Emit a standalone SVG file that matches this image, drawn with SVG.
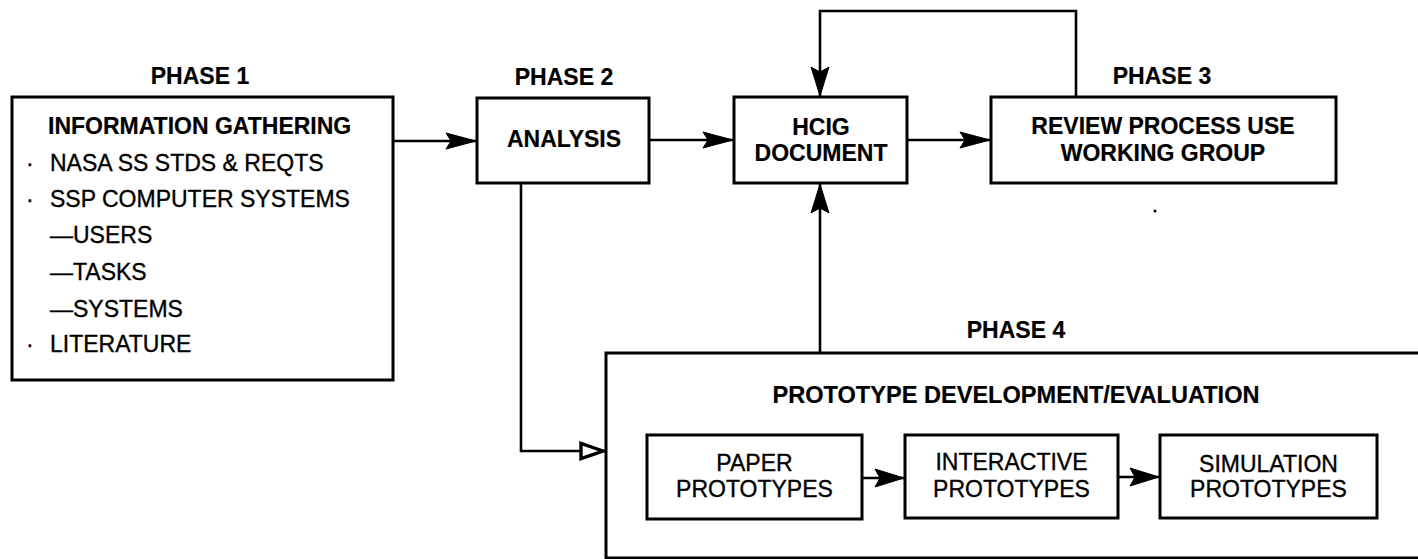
<svg xmlns="http://www.w3.org/2000/svg" width="1418" height="559" viewBox="0 0 1418 559">
  <style>
    .box { fill: #fff; stroke: #000; stroke-width: 3; }
    .frame { fill: none; stroke: #000; stroke-width: 3; }
    .line { fill: none; stroke: #000; stroke-width: 2.6; }
    .t { font-family: "Liberation Sans", Arial, Helvetica, sans-serif; font-size: 23px; fill: #000; stroke: #000; stroke-width: 0.35; }
    .b { font-weight: bold; stroke-width: 0.2; }
    .c { text-anchor: middle; }
  </style>
  <defs>
    <marker id="arr" viewBox="-34 -12 36 24" refX="0" refY="0" markerWidth="36" markerHeight="24" markerUnits="userSpaceOnUse" orient="auto">
      <path d="M0,0 L-30,-8 L-25,0 L-30,8 Z" fill="#000" stroke="#000" stroke-width="1" stroke-linejoin="round"/>
    </marker>
    <marker id="arrV" viewBox="-34 -12 36 24" refX="0" refY="0" markerWidth="36" markerHeight="24" markerUnits="userSpaceOnUse" orient="auto">
      <path d="M0,0 L-29,-9 L-24,0 L-29,9 Z" fill="#000" stroke="#000" stroke-width="1" stroke-linejoin="round"/>
    </marker>
    <marker id="hollow" viewBox="-30 -12 32 24" refX="0" refY="0" markerWidth="32" markerHeight="24" markerUnits="userSpaceOnUse" orient="auto">
      <path d="M-2,0 L-24,-7.5 L-24,7.5 Z" fill="#fff" stroke="#000" stroke-width="3.4"/>
    </marker>
  </defs>
  <rect width="1418" height="559" fill="#fff"/>

  <g id="phase1">
    <text class="t b c" x="200" y="84">PHASE 1</text>
    <rect class="box" x="12" y="97" width="381" height="283"/>
    <text class="t b" x="48" y="134">INFORMATION GATHERING</text>
    <text class="t" x="26" y="171">·</text>
    <text class="t" x="50" y="171">NASA SS STDS &amp; REQTS</text>
    <text class="t" x="26" y="207">·</text>
    <text class="t" x="50" y="207">SSP COMPUTER SYSTEMS</text>
    <text class="t" x="50" y="243">—USERS</text>
    <text class="t" x="50" y="280">—TASKS</text>
    <text class="t" x="50" y="317">—SYSTEMS</text>
    <text class="t" x="26" y="352">·</text>
    <text class="t" x="50" y="352">LITERATURE</text>
  </g>

  <g id="phase2">
    <text class="t b c" x="564" y="85">PHASE 2</text>
    <rect class="box" x="477" y="98" width="172" height="85"/>
    <text class="t b c" x="564" y="147">ANALYSIS</text>
  </g>

  <g id="hcig">
    <rect class="box" x="734" y="97" width="173" height="86"/>
    <text class="t b c" x="821" y="135">HCIG</text>
    <text class="t b c" x="821" y="161">DOCUMENT</text>
  </g>

  <g id="phase3">
    <text class="t b c" x="1162" y="84">PHASE 3</text>
    <rect class="box" x="991" y="97" width="345" height="86"/>
    <text class="t b c" x="1163" y="134">REVIEW PROCESS USE</text>
    <text class="t b c" x="1163" y="161">WORKING GROUP</text>
  </g>

  <circle cx="1155" cy="211" r="1.5" fill="#000"/>

  <g id="phase4">
    <text class="t b c" x="1016" y="338">PHASE 4</text>
    <path class="frame" d="M1430,353 H606 V558 H1430"/>
    <text class="t b c" x="1016" y="403" textLength="487" lengthAdjust="spacingAndGlyphs">PROTOTYPE DEVELOPMENT/EVALUATION</text>
  </g>

  <g id="paper">
    <rect class="box" x="647" y="435" width="215" height="84"/>
    <text class="t c" x="754.5" y="471">PAPER</text>
    <text class="t c" x="754.5" y="497">PROTOTYPES</text>
  </g>

  <g id="interactive">
    <rect class="box" x="905" y="435" width="213" height="83"/>
    <text class="t c" x="1011.5" y="470">INTERACTIVE</text>
    <text class="t c" x="1011.5" y="497">PROTOTYPES</text>
  </g>

  <g id="simulation">
    <rect class="box" x="1160" y="435" width="217" height="83"/>
    <text class="t c" x="1268.5" y="472">SIMULATION</text>
    <text class="t c" x="1268.5" y="497">PROTOTYPES</text>
  </g>

  <g id="connectors">
    <path class="line" d="M394,141 H476" marker-end="url(#arr)"/>
    <path class="line" d="M650,140 H733" marker-end="url(#arr)"/>
    <path class="line" d="M908,140 H990" marker-end="url(#arr)"/>
    <path class="line" d="M1076,96 V11 H820 V96" marker-end="url(#arrV)"/>
    <path class="line" d="M820,352 V184" marker-end="url(#arrV)"/>
    <path class="line" d="M521,184 V451 H605" marker-end="url(#hollow)"/>
    <path class="line" d="M863,478 H904" marker-end="url(#arrV)"/>
    <path class="line" d="M1119,477 H1159" marker-end="url(#arrV)"/>
  </g>
</svg>
